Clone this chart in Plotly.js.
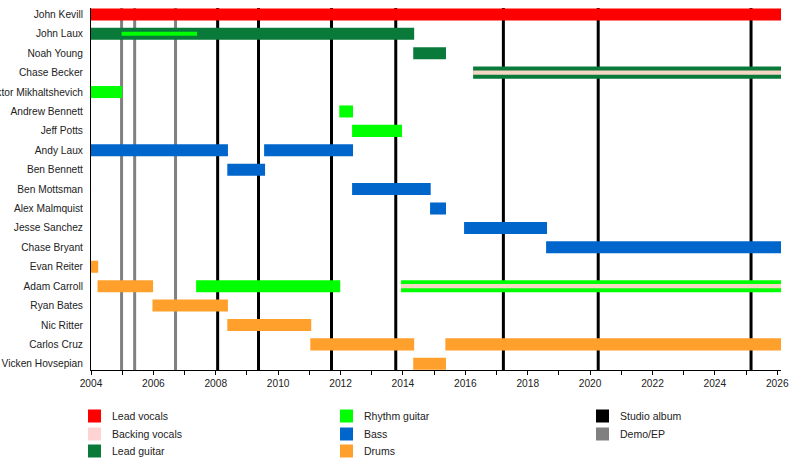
<!DOCTYPE html>
<html>
<head>
<meta charset="utf-8">
<script src="https://cdn.plot.ly/plotly-3.0.1.min.js"></script>
<style>
  html, body { margin: 0; padding: 0; background: #fff; }
  #chart { width: 800px; height: 458px; }
</style>
</head>
<body>
<div id="chart"></div>
<script>
// members, top to bottom
const members = [
  'John Kevill', 'John Laux', 'Noah Young', 'Chase Becker', 'Viktor Mikhaltshevich',
  'Andrew Bennett', 'Jeff Potts', 'Andy Laux', 'Ben Bennett', 'Ben Mottsman',
  'Alex Malmquist', 'Jesse Sanchez', 'Chase Bryant', 'Evan Reiter', 'Adam Carroll',
  'Ryan Bates', 'Nic Ritter', 'Carlos Cruz', 'Vicken Hovsepian'
];

const END = 2026.12;

// [member, start, end] in decimal years
const leadVocals = [
  ['John Kevill', 2004.0, END]
];
const leadGuitar = [
  ['John Laux', 2004.0, 2014.36],
  ['Noah Young', 2014.33, 2015.38],
  ['Chase Becker', 2016.25, END]
];
const rhythmGuitar = [
  ['Viktor Mikhaltshevich', 2004.0, 2005.0],
  ['Andrew Bennett', 2011.96, 2012.40],
  ['Jeff Potts', 2012.37, 2013.97],
  ['Adam Carroll', 2007.37, 2011.99],
  ['Adam Carroll', 2013.94, END]
];
const bass = [
  ['Andy Laux', 2004.0, 2008.39],
  ['Andy Laux', 2009.55, 2012.40],
  ['Ben Bennett', 2008.37, 2009.58],
  ['Ben Mottsman', 2012.37, 2014.89],
  ['Alex Malmquist', 2014.87, 2015.38],
  ['Jesse Sanchez', 2015.96, 2018.62],
  ['Chase Bryant', 2018.59, END]
];
const drums = [
  ['Evan Reiter', 2004.0, 2004.23],
  ['Adam Carroll', 2004.21, 2005.99],
  ['Ryan Bates', 2005.97, 2008.39],
  ['Nic Ritter', 2008.37, 2011.06],
  ['Carlos Cruz', 2011.03, 2014.36],
  ['Carlos Cruz', 2015.36, END],
  ['Vicken Hovsepian', 2014.33, 2015.38]
];
// thin stripes drawn on top of the main bars
const rhythmStripe = [
  ['John Laux', 2004.98, 2007.40]
];
const backingVocals = [
  ['Chase Becker', 2016.25, END],
  ['Adam Carroll', 2013.94, END]
];

const studioAlbums = [2008.06, 2009.37, 2011.71, 2013.77, 2017.22, 2020.26, 2025.16];
const demos = [2004.98, 2005.40, 2006.71];

const yearTicks = [];
for (let yr = 2004; yr <= 2026; yr++) yearTicks.push(yr);
const yearLabels = yearTicks.map(yr => (yr % 2 === 0 ? String(yr) : ''));

const legendNames = [
  ['Lead vocals', 'Backing vocals', 'Lead guitar'],
  ['Rhythm guitar', 'Bass', 'Drums'],
  ['Studio album', 'Demo/EP']
];

const col = {
  'Lead vocals': '#ff0000',
  'Backing vocals': '#ffd3d3',
  'Lead guitar': '#0a7a3a',
  'Rhythm guitar': '#00ff00',
  'Bass': '#0066cc',
  'Drums': '#ffa02c',
  'Studio album': '#000000',
  'Demo/EP': '#808080'
};

function barTrace(rows, color, width) {
  return {
    type: 'bar',
    orientation: 'h',
    y: rows.map(r => r[0]),
    base: rows.map(r => r[1]),
    x: rows.map(r => r[2] - r[1]),
    width: width,
    marker: { color: color, line: { width: 0 } },
    hoverinfo: 'skip',
    showlegend: false
  };
}

const data = [
  barTrace(leadVocals, col['Lead vocals'], 0.62),
  barTrace(leadGuitar, col['Lead guitar'], 0.62),
  barTrace(rhythmGuitar, col['Rhythm guitar'], 0.62),
  barTrace(bass, col['Bass'], 0.62),
  barTrace(drums, col['Drums'], 0.62),
  barTrace(rhythmStripe, col['Rhythm guitar'], 0.2),
  barTrace(backingVocals, '#f6d6c4', 0.22)
];

// plot area in pixels
const L = 91, R = 781, T = 8, B = 370;
const px = x => (x - L) / (R - L);
const py = y => (B - y) / (B - T);

const shapes = [];
studioAlbums.forEach(x => shapes.push({
  type: 'line', xref: 'x', yref: 'paper', x0: x, x1: x, y0: 0, y1: 1,
  line: { color: col['Studio album'], width: 3 }, layer: 'below'
}));
demos.forEach(x => shapes.push({
  type: 'line', xref: 'x', yref: 'paper', x0: x, x1: x, y0: 0, y1: 1,
  line: { color: col['Demo/EP'], width: 3 }, layer: 'below'
}));

// legend, drawn as squares + text
const annotations = [];
const colX = [88, 340, 596];
const rowY = [416, 434, 451];
legendNames.forEach((names, c) => {
  names.forEach((name, r) => {
    const cx = colX[c], cy = rowY[r];
    shapes.push({
      type: 'rect', xref: 'paper', yref: 'paper',
      x0: px(cx), x1: px(cx + 13), y0: py(cy - 6.5), y1: py(cy + 6.5),
      fillcolor: col[name], line: { width: 0 }
    });
    annotations.push({
      xref: 'paper', yref: 'paper', x: px(cx + 22), y: py(cy),
      xanchor: 'left', yanchor: 'middle', showarrow: false,
      text: name, font: { family: 'Liberation Sans, Arial, sans-serif', size: 10.5, color: '#222' }
    });
  });
});

const layout = {
  width: 800,
  height: 458,
  margin: { l: L, r: 800 - R, t: T, b: 458 - B, pad: 0 },
  paper_bgcolor: '#ffffff',
  plot_bgcolor: '#ffffff',
  barmode: 'overlay',
  font: { family: 'Liberation Sans, Arial, sans-serif', size: 10.5, color: '#222' },
  xaxis: {
    range: [2004, END],
    tickmode: 'array',
    tickvals: yearTicks,
    ticktext: yearLabels,
    ticks: 'outside',
    ticklen: 4,
    tickcolor: '#000',
    showgrid: false,
    zeroline: false,
    showline: true,
    linecolor: '#000',
    linewidth: 1,
    tickfont: { size: 10.2, color: '#222' },
    fixedrange: true
  },
  yaxis: {
    type: 'category',
    categoryorder: 'array',
    categoryarray: members,
    range: [18.32, -0.33],
    showgrid: false,
    zeroline: false,
    showline: true,
    linecolor: '#000',
    linewidth: 1,
    ticks: '',
    ticklabelstandoff: 5,
    tickfont: { size: 10.2, color: '#222' },
    fixedrange: true
  },
  shapes: shapes,
  annotations: annotations,
  showlegend: false
};

Plotly.newPlot('chart', data, layout, { displayModeBar: false, staticPlot: true });
</script>
</body>
</html>
